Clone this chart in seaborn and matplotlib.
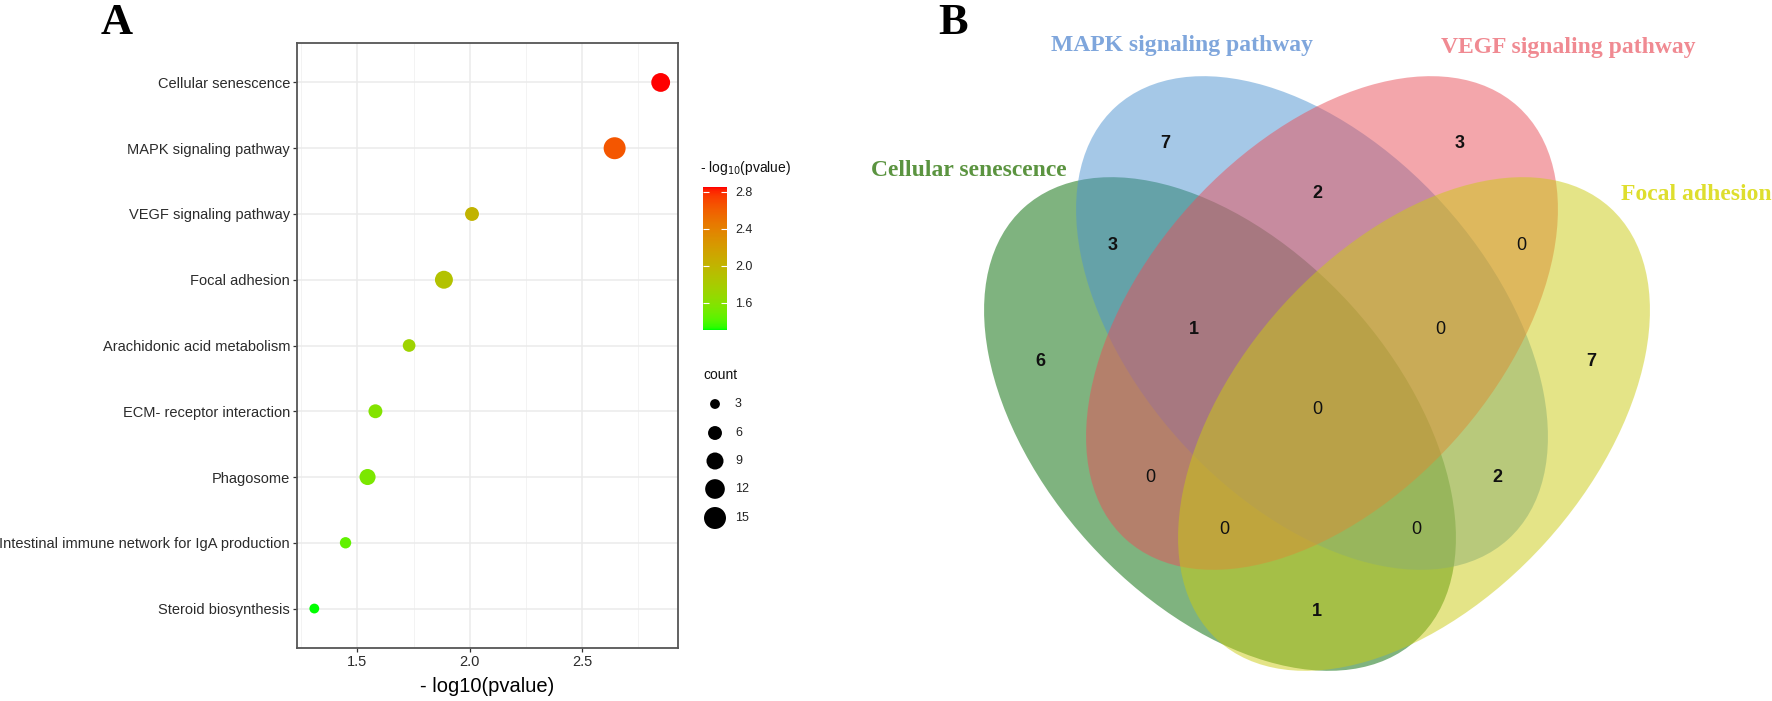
import numpy as np
import pandas as pd
import matplotlib
matplotlib.use("Agg")
import matplotlib.pyplot as plt
import seaborn as sns
from matplotlib.colors import ListedColormap, Normalize
from matplotlib.cm import ScalarMappable
from matplotlib.patches import Ellipse

# ---- panel A: KEGG enrichment ----
terms = ["Cellular senescence", "MAPK signaling pathway", "VEGF signaling pathway",
         "Focal adhesion", "Arachidonic acid metabolism", "ECM- receptor interaction",
         "Phagosome", "Intestinal immune network for IgA production", "Steroid biosynthesis"]
neg_log_p = [2.85, 2.645, 2.01, 1.885, 1.73, 1.58, 1.545, 1.447, 1.308]
counts = [11, 15, 6, 10, 5, 6, 8, 4, 3]
x_ticks = [1.5, 2.0, 2.5]
cbar_ticks = [1.6, 2.0, 2.4, 2.8]
count_breaks = [3, 6, 9, 12, 15]

# ---- panel B: Venn ----
set_names = ["Cellular senescence", "MAPK signaling pathway", "VEGF signaling pathway", "Focal adhesion"]
region_keys = ["M", "V", "MV", "CM", "VF", "CMV", "MVF", "C", "F",
               "CMVF", "CV", "MF", "CVF", "CMF", "CF"]
region_counts = [7, 3, 2, 3, 0, 1, 0, 6, 7, 0, 0, 2, 0, 0, 1]

W, H = 1772, 701
SIZE_K = 16.7  # marker area (pt^2) per gene


def px_rect(l, t, r, b):
    return [l / W, 1 - b / H, (r - l) / W, (b - t) / H]


# ggplot-like green -> red gradient, interpolated in Lab
M_RGB = np.array([[0.4124, 0.3576, 0.1805], [0.2126, 0.7152, 0.0722], [0.0193, 0.1192, 0.9505]])
WHITE = np.array([0.95047, 1.0, 1.08883])


def to_lab(rgb):
    rgb = np.asarray(rgb, float)
    lin = np.where(rgb <= 0.04045, rgb / 12.92, ((rgb + 0.055) / 1.055) ** 2.4)
    xyz = lin @ M_RGB.T / WHITE
    f = np.where(xyz > 0.008856, np.cbrt(xyz), 7.787 * xyz + 16 / 116)
    return np.stack([116 * f[..., 1] - 16, 500 * (f[..., 0] - f[..., 1]), 200 * (f[..., 1] - f[..., 2])], -1)


def from_lab(lab):
    fy = (lab[..., 0] + 16) / 116
    f = np.stack([fy + lab[..., 1] / 500, fy, fy - lab[..., 2] / 200], -1)
    xyz = np.where(f ** 3 > 0.008856, f ** 3, (f - 16 / 116) / 7.787) * WHITE
    lin = np.clip(xyz @ np.linalg.inv(M_RGB).T, 0, 1)
    rgb = np.where(lin <= 0.0031308, 12.92 * lin, 1.055 * lin ** (1 / 2.4) - 0.055)
    return np.clip(rgb, 0, 1)


t = np.linspace(0, 1, 256)[:, None]
lo, hi = to_lab([0, 1, 0]), to_lab([1, 0, 0])
cmap = ListedColormap(from_lab(lo + t * (hi - lo)))

plt.rcParams["font.family"] = ["Liberation Sans", "DejaVu Sans"]
fig = plt.figure(figsize=(W / 100, H / 100), dpi=100)

# dot plot
ax = fig.add_axes(px_rect(297, 43, 678, 648))
df = pd.DataFrame({"term": terms, "p": neg_log_p, "count": counts})
vmin, vmax = min(neg_log_p), max(neg_log_p)
sns.scatterplot(data=df, x="p", y="term", hue="p", palette=cmap, hue_norm=(vmin, vmax),
                size="count", sizes=(0, 15 * SIZE_K), size_norm=(0, 15),
                linewidth=0, legend=False, ax=ax, zorder=3)
rng = vmax - vmin
ax.set_xlim(vmin - 0.05 * rng, vmax + 0.05 * rng)
ax.set_ylim(len(terms) - 1 + 0.6, -0.6)
ax.set_xticks(x_ticks)
ax.set_xticklabels([f"{v:.1f}" for v in x_ticks])
ax.set_xticks([v + 0.25 for v in [1.0] + x_ticks], minor=True)
ax.set_axisbelow(True)
ax.grid(which="major", color="#EBEBEB", lw=1.1)
ax.grid(which="minor", axis="x", color="#F3F3F3", lw=0.7)
ax.tick_params(which="minor", length=0)
ax.tick_params(which="major", length=3, width=0.9, color="#333333", labelsize=10.5,
               labelcolor="#2b2b2b", pad=2)
for s in ax.spines.values():
    s.set_color("#555555")
    s.set_linewidth(1.3)
ax.set_xlabel("- log10(pvalue)", fontsize=14.5, color="black", labelpad=6)
ax.set_ylabel("")

# colour bar
cax = fig.add_axes(px_rect(703, 187, 727, 330))
cb = fig.colorbar(ScalarMappable(norm=Normalize(vmin, vmax), cmap=cmap), cax=cax)
cb.outline.set_visible(False)
cb.set_ticks(cbar_ticks)
cb.set_ticklabels([f"{v:.1f}" for v in cbar_ticks])
cax.tick_params(left=True, right=True, direction="in", length=4, width=0.8,
                color="white", labelsize=9, labelcolor="#222222", pad=6)

# overlay in pixel coordinates for legends and the Venn diagram
ov = fig.add_axes([0, 0, 1, 1])
ov.set_xlim(0, W)
ov.set_ylim(H, 0)
ov.axis("off")

ov.text(700, 168, "- log$_{10}$(pvalue)", fontsize=10, ha="left", va="center", color="#111111")
ov.text(703, 375, "count", fontsize=10, ha="left", va="center", color="#111111")
leg_y = [404, 433, 461, 489, 518]
ov.scatter([715] * len(count_breaks), leg_y, s=[c * SIZE_K for c in count_breaks],
           color="black", linewidth=0)
for c, y in zip(count_breaks, leg_y):
    ov.text(735, y, str(c), fontsize=9, ha="left", va="center", color="#222222")

# Venn ellipses
fills = {"C": "#006900", "M": "#4D93D1", "V": "#E94F59", "F": "#CBCB11"}
ell = [("C", (1220, 424), 47.8), ("M", (1312, 323), 47.8),
       ("V", (1322, 323), -47.8), ("F", (1414, 424), -47.8)]
for key, xy, ang in ell:
    ov.add_patch(Ellipse(xy, 584, 354, angle=ang, facecolor=fills[key], alpha=0.5,
                         edgecolor="none"))

region_xy = {"M": (1165, 144), "V": (1460, 144), "MV": (1317, 194), "CM": (1113, 245),
             "VF": (1521, 245), "CMV": (1194, 329), "MVF": (1440, 329), "C": (1040, 361),
             "F": (1591, 361), "CMVF": (1317, 410), "CV": (1150, 478), "MF": (1497, 478),
             "CVF": (1224, 529), "CMF": (1416, 529), "CF": (1317, 612)}
for key, n in zip(region_keys, region_counts):
    x, y = region_xy[key]
    ov.text(x, y, str(n), fontsize=13, ha="center", va="center", color="#111111",
            fontweight="bold" if n else "normal")

serif = ["Liberation Serif", "DejaVu Serif"]
label_style = [("Cellular senescence", (969, 171), "center", "#5B9440"),
               ("MAPK signaling pathway", (1182, 45), "center", "#7FA6DC"),
               ("VEGF signaling pathway", (1568, 47), "center", "#F08A92"),
               ("Focal adhesion", (1621, 195), "left", "#DEDE2E")]
for name, (x, y), ha, col in label_style:
    ov.text(x, y, name, family=serif, fontsize=17, fontweight="bold", ha=ha, va="center", color=col)

ov.text(117, 23, "A", family=serif, fontsize=32, fontweight="bold", ha="center", va="center")
ov.text(953, 23, "B", family=serif, fontsize=32, fontweight="bold", ha="center", va="center")

fig.savefig("out.png", dpi=100, facecolor="white")
